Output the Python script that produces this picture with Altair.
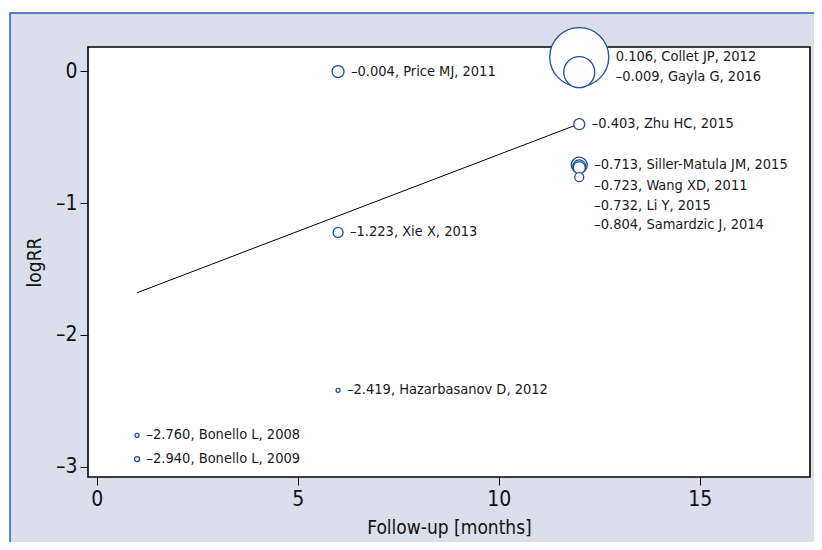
import math
import altair as alt
import pandas as pd

# ---- data ----
studies = ["Collet JP", "Gayla G", "Price MJ", "Zhu HC", "Siller-Matula JM", "Wang XD",
           "Li Y", "Samardzic J", "Xie X", "Hazarbasanov D", "Bonello L", "Bonello L"]
years = [2012, 2016, 2011, 2015, 2015, 2011, 2015, 2014, 2013, 2012, 2008, 2009]
followup = [12, 12, 6, 12, 12, 12, 12, 12, 6, 6, 1, 1]
logrr = [0.106, -0.009, -0.004, -0.403, -0.713, -0.723, -0.732, -0.804,
         -1.223, -2.419, -2.760, -2.940]
weights = [348, 96, 14.4, 12.1, 25.6, 16.9, 14.4, 8.1, 10.0, 1.6, 1.6, 2.5]
# label rows are spread apart in the original where points overlap
label_logrr = [0.106, -0.045, -0.004, -0.403, -0.713, -0.87, -1.02, -1.167,
               -1.223, -2.419, -2.760, -2.940]
fit_followup = [1, 12]
fit_logrr = [-1.68, -0.40]
x_ticks = [0, 5, 10, 15]
y_ticks = [0, -1, -2, -3]

X_DOMAIN = [-0.22, 17.74]
Y_DOMAIN = [-3.076, 0.182]
W, H = 722, 430
SIZE_MAX = 3481  # symbol area (diameter^2) for the largest weight
FONT = "DejaVu Sans Condensed, Liberation Sans Narrow, sans-serif"
BLUE = "#1d4f9e"

px_per_x = W / (X_DOMAIN[1] - X_DOMAIN[0])
wmax = max(weights)
radii = [math.sqrt(w / wmax * SIZE_MAX) / 2 for w in weights]


def fmt(v):
    return ("\u2013" if v < 0 else "") + f"{abs(v):.3f}"


label_x = []
for i in range(len(studies)):
    rg = max(radii[j] for j in range(len(studies))
             if followup[j] == followup[i] and abs(logrr[j] - logrr[i]) < 0.2)
    label_x.append(followup[i] + (rg + 7) / px_per_x)

df = pd.DataFrame({
    "study": studies,
    "year": years,
    "followup": followup,
    "logrr": logrr,
    "weight": weights,
    "label_x": label_x,
    "label_y": label_logrr,
    "label": [f"{fmt(v)}, {s}, {y}" for v, s, y in zip(logrr, studies, years)],
})
fit = pd.DataFrame({"followup": fit_followup, "logrr": fit_logrr})
one = pd.DataFrame({"k": [0]})

xs = alt.Scale(domain=X_DOMAIN, nice=False, zero=False)
ys = alt.Scale(domain=Y_DOMAIN, nice=False, zero=False)

x_axis = alt.Axis(values=x_ticks, title="Follow-up [months]", format="d", zindex=2,
                  titleX=W / 2, titleY=50, titleAlign="center", titleBaseline="middle",
                  labelPadding=3)
y_axis = alt.Axis(values=y_ticks, title="logRR", zindex=2,
                  labelExpr="datum.value == 0 ? '0' : '\u2013' + format(abs(datum.value), 'd')",
                  titleX=-54, titleY=H / 2, titleAngle=270, titleAlign="center",
                  titleBaseline="middle", labelPadding=3)

outer = alt.Chart(one).mark_rect(fill="#dadeed", stroke="#2b60ad", strokeWidth=1.5).encode(
    x=alt.value(-78), x2=alt.value(W + 40), y=alt.value(-34), y2=alt.value(H + 90))

inner = alt.Chart(one).mark_rect(fill="white", stroke="black", strokeWidth=1.6).encode(
    x=alt.value(0), x2=alt.value(W), y=alt.value(0), y2=alt.value(H))

line = alt.Chart(fit).mark_line(color="black", strokeWidth=1).encode(
    x=alt.X("followup:Q", scale=xs, axis=x_axis),
    y=alt.Y("logrr:Q", scale=ys, axis=y_axis),
)

points = alt.Chart(df).mark_point(shape="circle", filled=False, fill="white", fillOpacity=1,
                                  stroke=BLUE, strokeWidth=1.3, opacity=1).encode(
    x=alt.X("followup:Q", scale=xs, axis=x_axis),
    y=alt.Y("logrr:Q", scale=ys, axis=y_axis),
    size=alt.Size("weight:Q", scale=alt.Scale(domain=[0, wmax], range=[0, SIZE_MAX], zero=True),
                  legend=None),
    order=alt.Order("weight:Q", sort="descending"),
)

labels = alt.Chart(df).mark_text(align="left", baseline="middle", font=FONT, fontSize=14.5,
                                 color="#1a1a1a").encode(
    x=alt.X("label_x:Q", scale=xs, axis=x_axis),
    y=alt.Y("label_y:Q", scale=ys, axis=y_axis),
    text="label:N",
)

chart = alt.layer(outer, inner, line, points, labels).properties(
    width=W, height=H,
    autosize=alt.AutoSizeParams(type="none"),
    padding={"left": 80, "top": 39, "right": 4, "bottom": 65},
    background="white",
).configure_view(stroke=None).configure_axis(
    domain=False, grid=False, tickColor="black", tickSize=8, tickWidth=1,
    labelFont=FONT, labelFontSize=21, labelColor="#111111",
    titleFont=FONT, titleFontSize=19, titleFontWeight="normal", titleColor="#111111",
)

chart.save("out.html", embed_options={"renderer": "svg", "actions": False})
